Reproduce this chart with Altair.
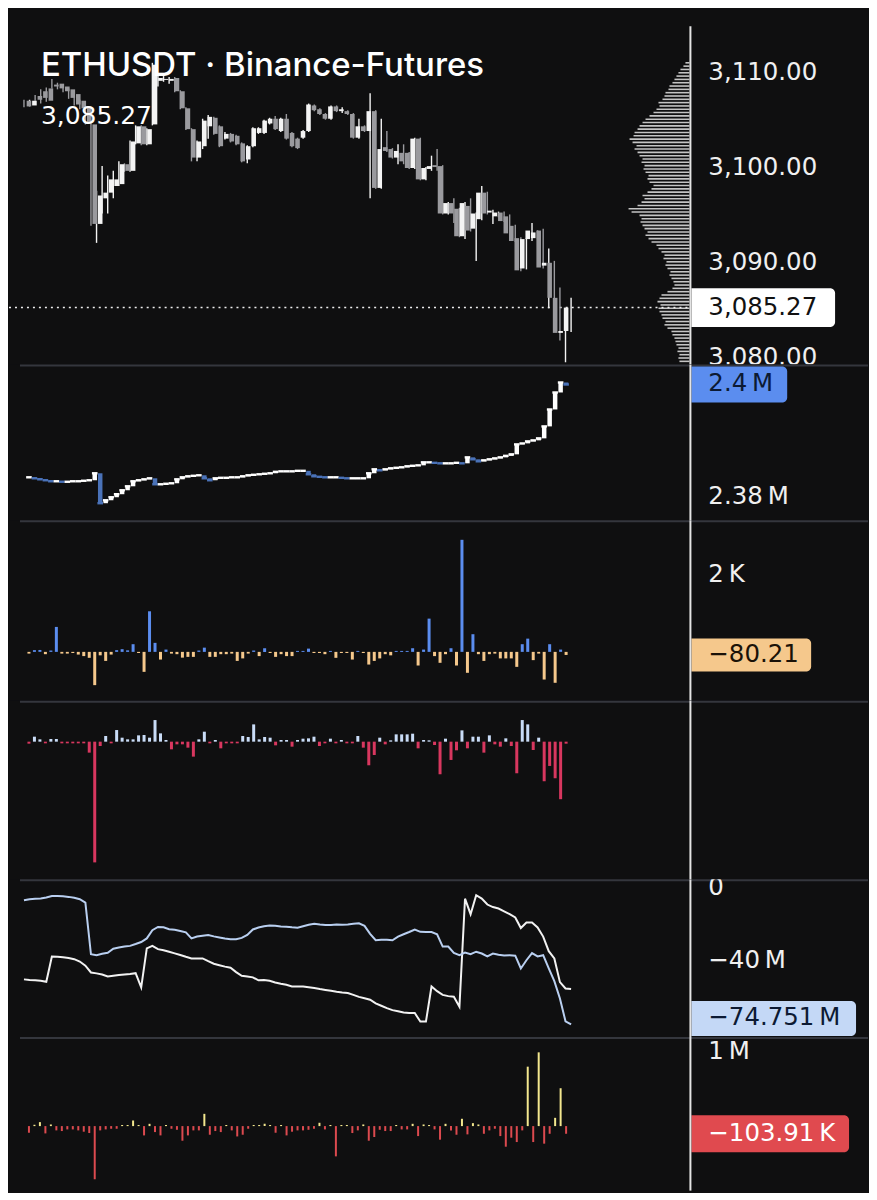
import altair as alt
import pandas as pd
import numpy as np

# ---------------- data ----------------
price_open = [3107.1, 3106.6, 3107.6, 3108.1, 3108.4, 3108.8, 3108.9, 3108.6, 3108.3, 3107.8,
              3107.1, 3106.4, 3104.6, 3094.1, 3096.8, 3097.4, 3098.1, 3098.3, 3100.4, 3099.7,
              3102.6, 3104.4, 3102.5, 3104.6, 3109.2, 3109.3, 3109.2, 3109.5, 3108.1, 3106.3,
              3104.1, 3101.1, 3102.3, 3104.4, 3105.3, 3104.4, 3103.1, 3103.6, 3103.4, 3102.6,
              3100.9, 3102.3, 3103.7, 3103.7, 3104.7, 3105.2, 3103.9, 3105.2, 3103.7, 3103.1,
              3103.2, 3103.9, 3106.6, 3106.2, 3105.7, 3105.2, 3106.5, 3106.0, 3106.0, 3105.7,
              3103.2, 3104.4, 3103.9, 3106.0, 3097.9, 3102.2, 3102.0, 3101.1, 3101.6, 3101.6,
              3100.0, 3103.1, 3098.8, 3099.9, 3100.3, 3100.2, 3095.2, 3096.3, 3095.7, 3092.8,
              3096.0, 3093.6, 3094.6, 3097.4, 3095.3, 3094.9, 3095.3, 3094.9, 3093.9, 3092.6,
              3089.4, 3092.5, 3092.6, 3093.4, 3089.7, 3090.0, 3086.3, 3082.6, 3082.8]
price_close = [3106.5, 3107.1, 3107.2, 3107.4, 3107.1, 3108.6, 3108.4, 3108.1, 3107.4, 3106.7,
               3106.3, 3104.7, 3094.1, 3097.1, 3097.4, 3098.8, 3098.8, 3100.4, 3099.7, 3102.8,
               3104.4, 3102.5, 3104.1, 3110.9, 3109.5, 3109.4, 3109.4, 3108.1, 3106.3, 3104.1,
               3101.1, 3102.8, 3105.0, 3105.4, 3103.6, 3102.3, 3103.6, 3102.8, 3102.5, 3100.7,
               3102.3, 3104.2, 3104.2, 3105.0, 3105.2, 3104.1, 3105.2, 3103.1, 3102.3, 3102.1,
               3103.9, 3106.7, 3106.1, 3105.7, 3105.2, 3106.5, 3106.0, 3106.2, 3105.7, 3103.2,
               3104.4, 3103.9, 3106.0, 3097.9, 3102.0, 3101.8, 3101.1, 3101.8, 3100.7, 3100.0,
               3103.1, 3098.8, 3100.0, 3100.2, 3100.1, 3095.2, 3096.3, 3095.2, 3092.8, 3096.3,
               3093.4, 3095.2, 3097.4, 3095.2, 3095.5, 3095.3, 3094.4, 3093.1, 3092.3, 3089.2,
               3092.5, 3093.4, 3093.2, 3089.5, 3090.0, 3086.3, 3082.6, 3082.8, 3085.27]
price_high = [3107.2, 3107.2, 3107.7, 3108.3, 3108.5, 3109.4, 3109.0, 3108.7, 3108.4, 3107.9,
              3107.2, 3106.5, 3104.7, 3097.6, 3100.2, 3099.2, 3099.7, 3100.7, 3100.5, 3102.9,
              3104.5, 3104.5, 3104.2, 3111.1, 3109.8, 3109.7, 3109.6, 3109.6, 3108.2, 3106.4,
              3104.2, 3102.9, 3105.2, 3105.6, 3105.4, 3104.5, 3103.8, 3103.7, 3103.5, 3102.7,
              3102.4, 3104.3, 3104.3, 3105.1, 3105.3, 3105.5, 3105.3, 3105.7, 3103.8, 3103.2,
              3104.0, 3106.8, 3106.7, 3106.3, 3105.8, 3106.6, 3106.6, 3106.4, 3106.1, 3105.8,
              3105.2, 3104.5, 3107.9, 3106.1, 3105.2, 3103.9, 3102.1, 3102.5, 3102.5, 3101.7,
              3103.2, 3103.2, 3100.1, 3101.3, 3102.0, 3100.3, 3096.4, 3096.8, 3095.8, 3096.4,
              3096.8, 3095.3, 3098.1, 3097.5, 3095.6, 3095.4, 3095.4, 3095.1, 3094.0, 3092.7,
              3092.6, 3094.2, 3093.4, 3093.6, 3091.5, 3090.2, 3087.4, 3085.0, 3086.3]
price_low = [3106.4, 3106.5, 3107.1, 3106.8, 3107.0, 3108.4, 3108.3, 3108.0, 3107.3, 3106.6,
             3106.2, 3104.6, 3093.9, 3092.1, 3095.2, 3095.2, 3096.8, 3098.1, 3099.6, 3099.6,
             3102.5, 3102.4, 3102.4, 3104.5, 3108.6, 3109.1, 3108.9, 3108.0, 3106.2, 3104.0,
             3100.7, 3100.7, 3102.0, 3103.1, 3103.5, 3102.2, 3103.0, 3102.7, 3102.4, 3100.6,
             3100.5, 3102.2, 3103.6, 3103.6, 3104.6, 3104.0, 3103.8, 3103.0, 3102.2, 3102.0,
             3103.1, 3103.8, 3106.0, 3105.6, 3105.1, 3105.1, 3105.9, 3105.8, 3105.6, 3103.1,
             3103.1, 3103.8, 3096.8, 3097.8, 3097.8, 3101.7, 3101.0, 3100.4, 3100.4, 3099.9,
             3099.9, 3098.7, 3098.7, 3099.7, 3099.7, 3095.1, 3095.1, 3094.2, 3092.7, 3092.5,
             3093.3, 3090.2, 3094.5, 3095.1, 3094.1, 3094.8, 3094.3, 3092.9, 3092.2, 3089.1,
             3089.3, 3092.3, 3092.5, 3089.4, 3085.2, 3086.0, 3081.8, 3079.5, 3082.7]

profile_start = 3079.6
profile_step = 0.35
profile_volume = [10, 11, 10, 12, 11, 13, 14, 15, 17, 18,
                  22, 25, 24, 27, 28, 30, 31, 29, 32, 30,
                  28, 22, 17, 15, 16, 18, 20, 19, 22, 24,
                  23, 26, 25, 28, 31, 33, 38, 41, 44, 42,
                  45, 47, 49, 48, 50, 58, 61, 52, 48, 45,
                  47, 42, 38, 36, 40, 42, 41, 44, 46, 45,
                  48, 47, 50, 52, 55, 53, 57, 60, 56, 55,
                  52, 50, 47, 44, 40, 36, 33, 30, 31, 27,
                  25, 24, 21, 20, 17, 15, 13, 11, 9, 6, 4]

cvd_first_open = 2383480
cvd_close = [2383570, 2383390, 2383210, 2383040, 2382860, 2382860, 2382770, 2382770, 2382860, 2382860,
             2382950, 2383040, 2384290, 2378930, 2379460, 2380000, 2380540, 2381250, 2381960, 2382860,
             2383040, 2383210, 2383390, 2382320, 2382320, 2382410, 2382500, 2383210, 2383570, 2383750,
             2383840, 2383930, 2383390, 2383040, 2383390, 2383480, 2383480, 2383570, 2383570, 2383750,
             2383930, 2384020, 2384110, 2384200, 2384290, 2384550, 2384640, 2384640, 2384640, 2384730,
             2384730, 2384110, 2383750, 2383660, 2383570, 2383570, 2383570, 2383480, 2383390, 2383390,
             2383390, 2383390, 2384290, 2385000, 2384820, 2385000, 2385180, 2385270, 2385360, 2385540,
             2385630, 2385710, 2386250, 2386250, 2386160, 2386070, 2386070, 2386070, 2386160, 2386070,
             2387140, 2386790, 2386430, 2386610, 2386790, 2386960, 2387140, 2387410, 2387680, 2389460,
             2389640, 2390000, 2390180, 2390540, 2392680, 2395710, 2398750, 2400540, 2400180]

delta_values = [-45, 45, 50, -60, 35, 650, -45, -45, -30, -70,
                -110, -155, -866, -90, -235, -70, 45, 70, 40, 200,
                -30, -520, 1057, 235, -200, 60, -45, -60, -150, -130,
                -130, 35, 110, -130, -130, -60, -60, -45, -235, -170,
                -45, 35, -110, 95, -30, -130, -60, -110, -110, 25,
                25, 85, -30, -30, -60, 25, -155, -30, -30, -200,
                25, -30, -330, -235, -170, -60, -90, 25, 25, 25,
                95, -355, 60, 866, -110, -285, -60, 95, -355, 2918,
                -545, 460, -60, -235, -60, -45, -170, -170, -170, -390,
                200, 345, -215, -45, -720, 200, -805, 60, -80.21]

flow_values = [-6, 15, 7, -5, 8, 8, -5, -5, -5, -5,
               -5, -33, -363, -13, 17, -5, 35, 12, 7, 7,
               19, 20, 12, 65, 25, 5, -23, -8, -8, -18,
               -45, 7, 30, -5, 5, -20, -5, -5, -5, 17,
               14, 52, 7, 14, 12, -11, 5, 5, -15, 5,
               9, 10, 15, -13, -5, 9, -5, 5, -5, -5,
               17, -18, -71, -40, 12, -8, 4, 22, 22, 22,
               24, -20, 5, 4, -10, -98, 9, -55, -26, 34,
               -20, 15, 15, -33, 19, -8, -15, 10, -13, -95,
               65, 52, -25, 12, -119, -73, -110, -173, -6]

oi_blue = [-6.6, -6.0, -5.7, -5.6, -5.0, -4.2, -4.2, -4.4, -4.7, -5.2,
           -6.0, -7.8, -36.2, -36.7, -35.9, -35.4, -33.2, -32.5, -32.0, -31.6,
           -30.6, -29.5, -27.5, -23.0, -21.2, -21.4, -22.5, -22.8, -23.4, -24.2,
           -27.5, -26.5, -26.0, -25.6, -26.4, -27.0, -27.6, -27.9, -27.9, -27.2,
           -25.6, -22.6, -21.5, -20.8, -20.4, -20.6, -21.0, -21.1, -21.4, -21.6,
           -20.8, -20.0, -19.4, -19.9, -20.1, -20.1, -19.9, -20.0, -19.8, -19.5,
           -19.2, -20.6, -25.0, -28.5, -28.2, -28.3, -28.5, -26.5, -25.2, -24.0,
           -22.6, -23.9, -24.0, -24.0, -25.2, -32.0, -32.0, -35.5, -36.7, -35.3,
           -36.2, -34.8, -35.8, -37.4, -35.8, -36.5, -36.9, -36.7, -37.0, -44.0,
           -39.5, -35.6, -37.4, -36.7, -44.0, -51.0, -60.5, -73.0, -74.751]
oi_white = [-50.0, -50.3, -50.5, -50.8, -51.3, -37.4, -37.6, -37.9, -38.3, -38.9,
            -40.2, -42.5, -46.2, -46.7, -47.3, -48.4, -48.0, -47.6, -47.3, -47.0,
            -46.6, -54.4, -33.0, -31.6, -33.4, -34.0, -34.8, -35.7, -36.6, -37.6,
            -38.5, -38.5, -38.5, -40.0, -41.4, -42.2, -43.0, -43.6, -46.0, -48.0,
            -48.4, -48.9, -50.5, -50.4, -50.8, -51.7, -52.4, -53.0, -53.9, -53.9,
            -53.9, -54.3, -54.7, -55.3, -55.8, -56.3, -56.8, -57.2, -57.5, -58.5,
            -59.6, -60.4, -61.2, -63.2, -64.5, -65.8, -66.9, -67.5, -68.2, -68.5,
            -68.5, -73.2, -73.2, -53.9, -56.5, -58.5, -59.2, -59.5, -65.0, -5.7,
            -14.2, -3.8, -5.6, -8.9, -10.3, -11.1, -12.6, -14.2, -16.0, -21.8,
            -18.8, -18.8, -21.5, -26.5, -34.5, -38.5, -51.5, -55.0, -55.3]

liq_values = [-90, 18, 54, -99, 22, -58, -67, -45, -45, -58,
              -76, -94, -720, -58, -45, -36, -36, 15, 15, 76,
              15, -126, 31, -81, -126, 15, -36, -50, -198, -126,
              -58, -58, 166, -117, -67, -81, 15, -58, -140, -117,
              -36, 15, 15, 31, 15, -90, 15, -126, -76, -58,
              -58, -50, -36, 45, -45, 15, -410, 15, 15, -94,
              -58, 22, -198, -148, -50, -67, -67, 15, -45, -45,
              31, -135, 22, 15, -45, -184, 31, -58, -117, 99,
              -112, 40, 22, -104, -58, -36, -135, -279, -157, -216,
              -58, 805, -216, 999, -238, -104, 112, 513, -103.91]

price_ticks = [3110, 3100, 3090, 3080]
price_tick_labels = ["3,110.00", "3,100.00", "3,090.00", "3,080.00"]
cvd_ticks = [2380000]
cvd_tick_labels = ["2.38\u2009M"]
delta_ticks = [2000]
delta_tick_labels = ["2\u2009K"]
oi_ticks = [0, -40]
oi_tick_labels = ["0", "\u221240\u2009M"]
liq_ticks = [1000]
liq_tick_labels = ["1\u2009M"]

title_text = "ETHUSDT \u00b7 Binance-Futures"
last_price_text = "3,085.27"

# ---------------- styling ----------------
BG = "#0f0f10"
SEP = "#34363d"
AXC = "#e4e4e4"
LBL = "#f0f0f0"
FONT = "Inter"
NUMFONT = "DejaVu Sans"
NUMSIZE = 24.5
W = 861
AXIS_X = 683
LABEL_X = 701
BOX_X0 = 684

n = len(price_close)
idx = list(range(n))
XS = alt.Scale(domain=[0, n - 1], range=[15, 563.4], nice=False, zero=False)
X = alt.X("i:Q", scale=XS, axis=None)
one = pd.DataFrame({"k": [0]})


def ysc(lo, hi):
    return alt.Scale(domain=[lo, hi], nice=False, zero=False)


def sep_rule():
    return alt.Chart(one).mark_rule(color=SEP, strokeWidth=2).encode(
        x=alt.value(11), x2=alt.value(W), y=alt.value(1))


def axis_line(h, top=0):
    return alt.Chart(one).mark_rule(color=AXC, strokeWidth=2).encode(
        x=alt.value(AXIS_X), y=alt.value(top), y2=alt.value(h))


def tick_labels(vals, texts, ys):
    df = pd.DataFrame({"v": vals, "t": texts})
    return alt.Chart(df).mark_text(align="left", baseline="middle", font=NUMFONT, fontSize=NUMSIZE,
                                   color=LBL, clip=True).encode(
        x=alt.value(LABEL_X), y=alt.Y("v:Q", scale=ys, axis=None), text="t:N")


def value_box(val, text, fill, tcolor, x1, ys, half=18, shift=0):
    df = pd.DataFrame({"v": [val], "t": [text]})
    r = alt.Chart(df).mark_rect(color=fill, cornerRadiusTopRight=5, cornerRadiusBottomRight=5,
                                yOffset=-half + shift, y2Offset=half + shift).encode(
        x=alt.value(BOX_X0), x2=alt.value(x1), y=alt.Y("v:Q", scale=ys, axis=None), y2=alt.Y2("v"))
    t = alt.Chart(df).mark_text(align="left", baseline="middle", font=NUMFONT, fontSize=NUMSIZE,
                                color=tcolor, dy=shift).encode(
        x=alt.value(LABEL_X), y=alt.Y("v:Q", scale=ys, axis=None), text="t:N")
    return [r, t]


# ---------------- panel 1: price ----------------
H1 = 356
ys1 = ysc(3079.26, 3116.74)
bars = pd.DataFrame({"i": idx, "o": price_open, "h": price_high, "l": price_low, "c": price_close})
pcol = alt.condition("datum.c >= datum.o", alt.value("#f4f4f4"), alt.value("#9a9a9e"))
wick = alt.Chart(bars).mark_rule(strokeWidth=1.4).encode(
    x=X, y=alt.Y("l:Q", scale=ys1, axis=None), y2="h:Q", color=pcol)
body = alt.Chart(bars).mark_bar(size=4.6).encode(
    x=X, y=alt.Y("o:Q", scale=ys1, axis=None), y2="c:Q", color=pcol)

prof = pd.DataFrame({"p": profile_start + profile_step * np.arange(len(profile_volume)),
                     "vol": profile_volume})
prof_layer = alt.Chart(prof).mark_rule(color="#c4c4c4", strokeWidth=1.6).encode(
    x=alt.X("vol:Q", scale=alt.Scale(domain=[0, 60], range=[682, 622]), axis=None),
    x2=alt.datum(0),
    y=alt.Y("p:Q", scale=ys1, axis=None))

dotted = alt.Chart(pd.DataFrame({"v": [price_close[-1]]})).mark_rule(
    color="#eeeeee", strokeDash=[2, 4], strokeWidth=1.5).encode(
    x=alt.value(0), x2=alt.value(AXIS_X), y=alt.Y("v:Q", scale=ys1, axis=None))

title = alt.Chart(one).mark_text(align="left", baseline="alphabetic", font=FONT, fontSize=33,
                                 fontWeight=500, color="#ffffff").encode(
    x=alt.value(32), y=alt.value(67), text=alt.value(title_text))
subtitle = alt.Chart(one).mark_text(align="left", baseline="alphabetic", font=NUMFONT, fontSize=25,
                                    color="#ffffff").encode(
    x=alt.value(32), y=alt.value(115), text=alt.value(last_price_text))

p1 = alt.layer(
    prof_layer, dotted, wick, body, title, subtitle,
    tick_labels(price_ticks, price_tick_labels, ys1),
    *value_box(price_close[-1], last_price_text, "#ffffff", "#111111", 828, ys1, half=19.5),
    axis_line(H1, top=17),
).resolve_scale(x="independent").properties(width=W, height=H1)

# ---------------- panel 2: cumulative delta ----------------
H2 = 156
ys2 = ysc(2375893, 2403750)
cvd = pd.DataFrame({"i": idx, "o": [cvd_first_open] + cvd_close[:-1], "c": cvd_close})
ccol = alt.condition("datum.c >= datum.o", alt.value("#ffffff"), alt.value("#4a72b8"))
cvd_body = alt.Chart(cvd).mark_bar(size=4.5).encode(
    x=X, y=alt.Y("o:Q", scale=ys2, axis=None), y2="c:Q", color=ccol)
cvd_flat = alt.Chart(cvd).mark_bar(size=5.6, yOffset=-1.2, y2Offset=1.2).encode(
    x=X, y=alt.Y("c:Q", scale=ys2, axis=None), y2="c:Q", color=ccol)
p2 = alt.layer(
    sep_rule(), cvd_flat, cvd_body,
    tick_labels(cvd_ticks, cvd_tick_labels, ys2),
    *value_box(cvd_close[-1], "2.4\u2009M", "#5b8def", "#0c1a33", 780, ys2),
    axis_line(H2),
).properties(width=W, height=H2)

# ---------------- panel 3: delta bars ----------------
H3 = 181
ys3 = ysc(-1273, 3429)
d3 = pd.DataFrame({"i": idx, "v": delta_values})
b3 = alt.Chart(d3).mark_bar(size=3).encode(
    x=X, y=alt.Y("v:Q", scale=ys3, axis=None), y2=alt.datum(0),
    color=alt.condition("datum.v > 0", alt.value("#5b8def"), alt.value("#f5c88c")))
p3 = alt.layer(
    sep_rule(), b3,
    tick_labels(delta_ticks, delta_tick_labels, ys3),
    *value_box(delta_values[-1], "\u221280.21", "#f5c88c", "#1a1208", 804, ys3, half=16.5),
    axis_line(H3),
).properties(width=W, height=H3)

# ---------------- panel 4: flow bars ----------------
H4 = 179
ys4 = ysc(-414, 123)
d4 = pd.DataFrame({"i": idx, "v": flow_values})
b4 = alt.Chart(d4).mark_bar(size=3).encode(
    x=X, y=alt.Y("v:Q", scale=ys4, axis=None), y2=alt.datum(0),
    color=alt.condition("datum.v > 0", alt.value("#c9dcf7"), alt.value("#d8375f")))
p4 = alt.layer(sep_rule(), b4, axis_line(H4)).properties(width=W, height=H4)

# ---------------- panel 5: lines ----------------
H5 = 158
ys5 = ysc(-81.64, 4.93)
d5 = pd.DataFrame({"i": idx, "b": oi_blue, "w": oi_white})
lw = alt.Chart(d5).mark_line(color="#f2f2f2", strokeWidth=2).encode(
    x=X, y=alt.Y("w:Q", scale=ys5, axis=None))
lb = alt.Chart(d5).mark_line(color="#b9cff0", strokeWidth=2).encode(
    x=X, y=alt.Y("b:Q", scale=ys5, axis=None))
p5 = alt.layer(
    sep_rule(), lw, lb,
    tick_labels(oi_ticks, oi_tick_labels, ys5),
    *value_box(oi_blue[-1], "\u221274.751\u2009M", "#c4d8f6", "#0c1a33", 849, ys5, half=17.5, shift=-6),
    axis_line(H5),
).properties(width=W, height=H5)

# ---------------- panel 6: liquidation bars ----------------
H6 = 154
ys6 = ysc(-874, 1207)
d6 = pd.DataFrame({"i": idx, "v": liq_values})
b6 = alt.Chart(d6).mark_bar(size=2).encode(
    x=X, y=alt.Y("v:Q", scale=ys6, axis=None), y2=alt.datum(0),
    color=alt.condition("datum.v > 0", alt.value("#f3e78e"), alt.value("#dc4a4f")))
p6 = alt.layer(
    sep_rule(), b6,
    tick_labels(liq_ticks, liq_tick_labels, ys6),
    *value_box(liq_values[-1], "\u2212103.91\u2009K", "#e04a4f", "#ffffff", 842, ys6, half=18.5),
    axis_line(H6),
).properties(width=W, height=H6)

chart = alt.vconcat(p1, p2, p3, p4, p5, p6, spacing=0, bounds="flush").resolve_scale(
    x="independent", y="independent"
).properties(padding=0, background=BG).configure_view(stroke=None, fill=BG)

chart.save("out.html", embed_options={"renderer": "svg", "actions": False})
